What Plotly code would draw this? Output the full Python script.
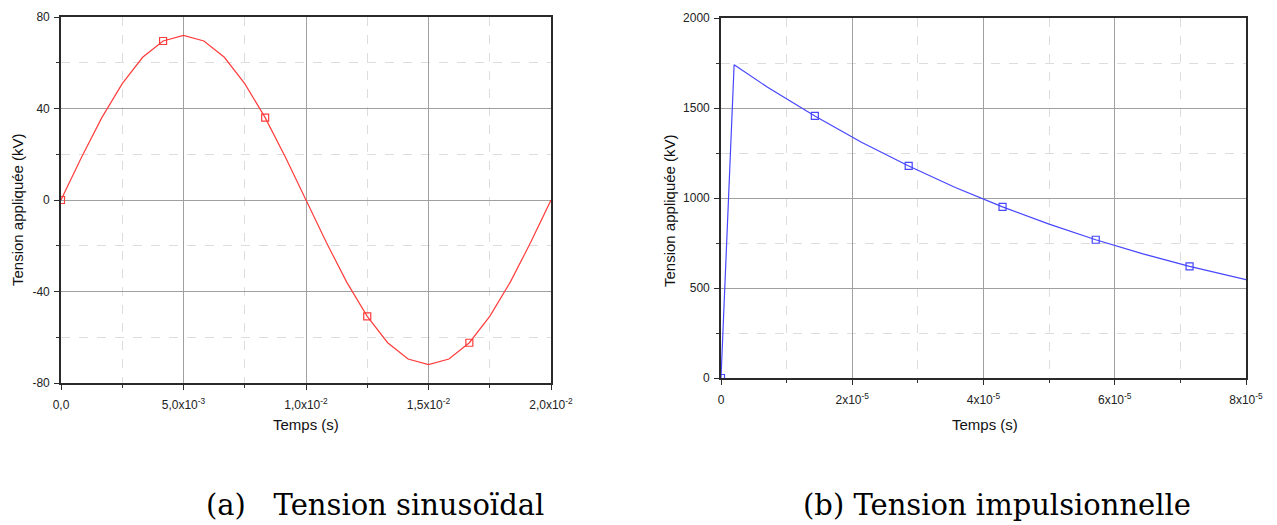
import plotly.graph_objects as go

W, H = 1277, 525

# ---- Data: (a) sinusoidal voltage ----
sin_t = [0.0, 0.000833, 0.001667, 0.0025, 0.003333, 0.004167, 0.005, 0.005833,
         0.006667, 0.0075, 0.008333, 0.009167, 0.01, 0.010833, 0.011667, 0.0125,
         0.013333, 0.014167, 0.015, 0.015833, 0.016667, 0.0175, 0.018333, 0.019167, 0.02]
sin_v = [0.0, 18.6, 36.0, 50.9, 62.4, 69.5, 72.0, 69.5, 62.4, 50.9, 36.0, 18.6, 0.0,
         -18.6, -36.0, -50.9, -62.4, -69.5, -72.0, -69.5, -62.4, -50.9, -36.0, -18.6, 0.0]
sin_marker_idx = [0, 5, 10, 15, 20]

sin_xticks = [0.0, 0.005, 0.01, 0.015, 0.02]
sin_xticktext = ["0,0", "5,0x10<sup>-3</sup>", "1,0x10<sup>-2</sup>",
                 "1,5x10<sup>-2</sup>", "2,0x10<sup>-2</sup>"]
sin_yticks = [-80, -40, 0, 40, 80]

# ---- Data: (b) impulse voltage ----
imp_t = [0.0, 2.0e-6, 7.1e-6, 1.43e-5, 2.14e-5, 2.86e-5, 3.57e-5, 4.29e-5,
         5.0e-5, 5.71e-5, 6.43e-5, 7.14e-5, 8.0e-5]
imp_v = [0, 1740, 1615, 1456, 1310, 1178, 1058, 951, 855, 768, 690, 620, 546]
imp_marker_idx = [0, 3, 5, 7, 9, 11]

imp_xticks = [0, 2e-5, 4e-5, 6e-5, 8e-5]
imp_xticktext = ["0", "2x10<sup>-5</sup>", "4x10<sup>-5</sup>",
                 "6x10<sup>-5</sup>", "8x10<sup>-5</sup>"]
imp_yticks = [0, 500, 1000, 1500, 2000]

captions = ["(a)\u00a0\u00a0\u00a0Tension sinusoïdal", "(b) Tension impulsionnelle"]
ytitle = "Tension appliquée (kV)"
xtitle = "Temps (s)"

RED = "rgb(255,60,60)"
BLUE = "rgb(70,70,255)"
FONT = "Liberation Sans, Arial, sans-serif"

fig = go.Figure()

fig.add_trace(go.Scatter(x=sin_t, y=sin_v, mode="lines",
                         line=dict(color=RED, width=1.2),
                         xaxis="x", yaxis="y", showlegend=False, cliponaxis=True))
fig.add_trace(go.Scatter(x=[sin_t[i] for i in sin_marker_idx],
                         y=[sin_v[i] for i in sin_marker_idx], mode="markers",
                         marker=dict(symbol="square-open", size=7, color=RED,
                                     line=dict(width=1.2, color=RED)),
                         xaxis="x", yaxis="y", showlegend=False, cliponaxis=True))

fig.add_trace(go.Scatter(x=imp_t, y=imp_v, mode="lines",
                         line=dict(color=BLUE, width=1.2),
                         xaxis="x2", yaxis="y2", showlegend=False, cliponaxis=True))
fig.add_trace(go.Scatter(x=[imp_t[i] for i in imp_marker_idx],
                         y=[imp_v[i] for i in imp_marker_idx], mode="markers",
                         marker=dict(symbol="square-open", size=7, color=BLUE,
                                     line=dict(width=1.2, color=BLUE)),
                         xaxis="x2", yaxis="y2", showlegend=False, cliponaxis=True))


def ax(domain, rng, tickvals, ticktext, dtick_minor, anchor, standoff):
    d = dict(
        domain=domain, range=rng, anchor=anchor, automargin=False,
        tickmode="array", tickvals=tickvals,
        ticktext=ticktext if ticktext is not None else [str(v) for v in tickvals],
        showline=True, linecolor="#2a2a2a", linewidth=1.7, mirror=True,
        ticks="outside", ticklen=5, tickwidth=1.3, tickcolor="#2a2a2a",
        ticklabelstandoff=standoff,
        showgrid=True, gridcolor="#a0a0a0", gridwidth=1,
        zeroline=False,
        tickfont=dict(family=FONT, size=12, color="#222222"),
        minor=dict(dtick=dtick_minor, ticks="outside", ticklen=3, tickwidth=1,
                   tickcolor="#333333", showgrid=True, gridcolor="#dddddd",
                   griddash="dash", gridwidth=1),
        layer="below traces",
    )
    return d


def px_x(p):
    return p / W


def px_y(p):
    return 1 - p / H


fig.update_layout(
    width=W, height=H, autosize=False,
    margin=dict(l=0, r=0, t=0, b=0, pad=0),
    paper_bgcolor="white", plot_bgcolor="white",
    showlegend=False,
    xaxis=ax([px_x(61), px_x(551)], [0, 0.02], sin_xticks, sin_xticktext, 0.0025, "y", 5),
    yaxis=ax([px_y(383), px_y(17)], [-80, 80], sin_yticks, None, 20, "x", 2),
    xaxis2=ax([px_x(721), px_x(1246)], [0, 8e-5], imp_xticks, imp_xticktext, 1e-5, "y2", 5),
    yaxis2=ax([px_y(378), px_y(18)], [0, 2000], imp_yticks, None, 250, "x2", 2),
)

ann = []
for xc, yc in [(17, 210), (669, 210)]:
    ann.append(dict(x=px_x(xc), y=px_y(yc), xref="paper", yref="paper",
                    text=ytitle, textangle=-90, showarrow=False,
                    font=dict(family=FONT, size=15, color="#111111"),
                    xanchor="center", yanchor="middle"))
for xc, yc in [(306, 424), (985, 424)]:
    ann.append(dict(x=px_x(xc), y=px_y(yc), xref="paper", yref="paper",
                    text=xtitle, showarrow=False,
                    font=dict(family=FONT, size=15, color="#111111"),
                    xanchor="center", yanchor="middle"))
for (xc, yc), txt in zip([(375, 505), (997, 505)], captions):
    ann.append(dict(x=px_x(xc), y=px_y(yc), xref="paper", yref="paper",
                    text=txt, showarrow=False,
                    font=dict(family="DejaVu Serif, serif", size=29, color="#000000"),
                    xanchor="center", yanchor="middle"))
fig.update_layout(annotations=ann)

fig.write_html("out.html", config={"responsive": False})
